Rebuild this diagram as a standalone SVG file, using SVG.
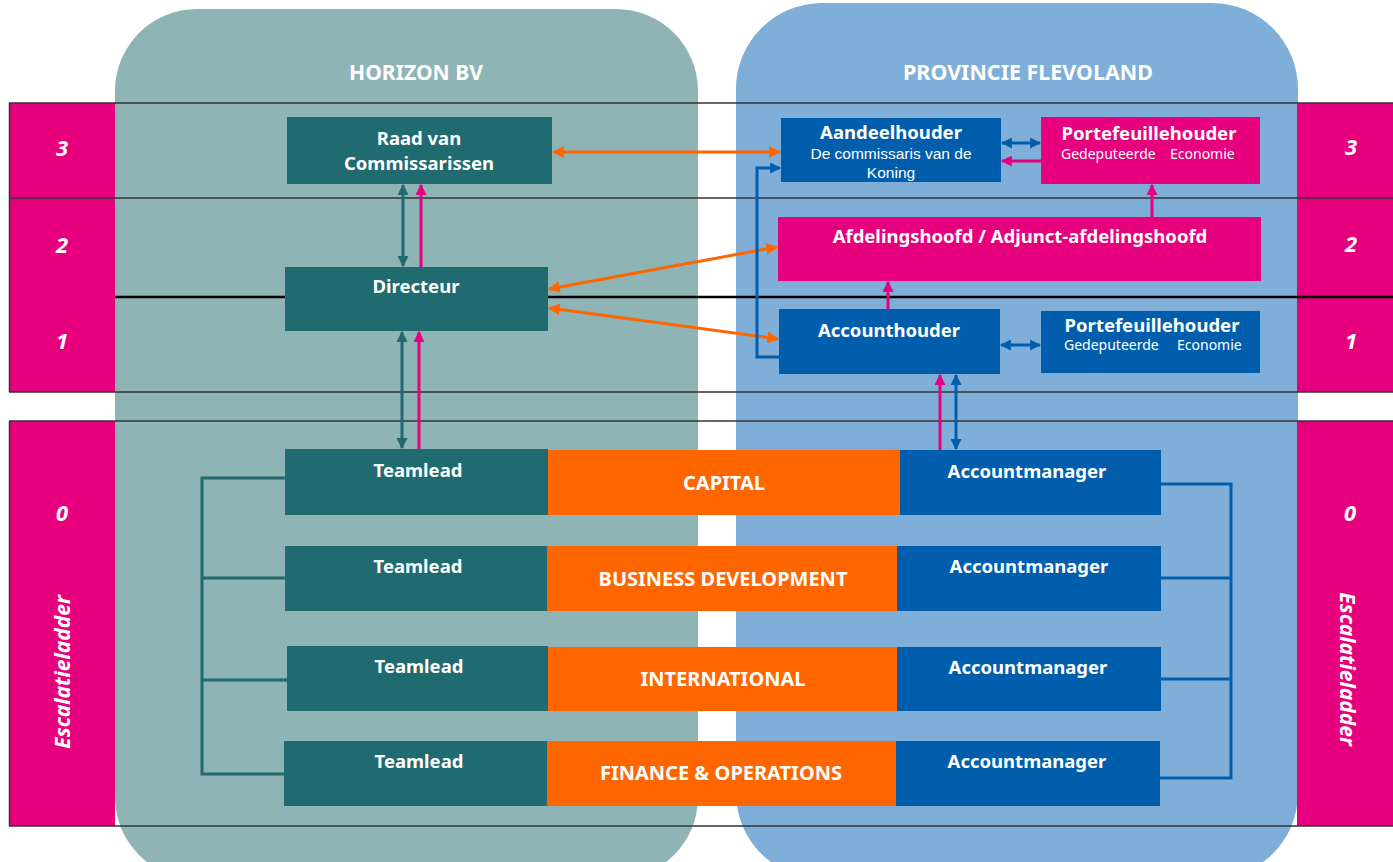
<svg xmlns="http://www.w3.org/2000/svg" width="1393" height="862" viewBox="0 0 1393 862">
<style>
.t{font-family:"Noto Sans","Open Sans","Liberation Sans",sans-serif;fill:#fff;font-weight:bold;text-anchor:middle}
.st{text-anchor:start}
.r{font-weight:normal}
.lib{font-family:"Liberation Sans",Arial,sans-serif;font-size:15.5px}
.hd{font-size:22px}
.b{font-size:18.5px}
.o{font-size:20px}
.s{font-size:14px}
.num{font-size:22px;font-style:italic}
.esc{font-size:21px;font-style:italic}
.fl{stroke:#333;stroke-width:1.5;fill:none}
.teal{fill:#206B6F}
.blue{fill:#005EAD}
.pink{fill:#E6007E}
.or{fill:#FF6600}
.co{fill:none;stroke-width:3}
.cOr{stroke:#FF6600}
.cTe{stroke:#206B6F}
.cBl{stroke:#005EAD}
.cPk{stroke:#E6007E}
</style>
<defs>
<marker id="mOr" viewBox="0 0 10 10" refX="9" refY="5" markerWidth="12" markerHeight="12" markerUnits="userSpaceOnUse" orient="auto-start-reverse"><path d="M0,0 L10,5 L0,10 z" fill="#FF6600"/></marker>
<marker id="mTe" viewBox="0 0 10 10" refX="9" refY="5" markerWidth="11" markerHeight="11" markerUnits="userSpaceOnUse" orient="auto-start-reverse"><path d="M0,0 L10,5 L0,10 z" fill="#206B6F"/></marker>
<marker id="mBl" viewBox="0 0 10 10" refX="9" refY="5" markerWidth="11" markerHeight="11" markerUnits="userSpaceOnUse" orient="auto-start-reverse"><path d="M0,0 L10,5 L0,10 z" fill="#005EAD"/></marker>
<marker id="mPk" viewBox="0 0 10 10" refX="9" refY="5" markerWidth="11" markerHeight="11" markerUnits="userSpaceOnUse" orient="auto-start-reverse"><path d="M0,0 L10,5 L0,10 z" fill="#E6007E"/></marker>
</defs>

<g id="panels">
<rect x="115" y="9" width="583" height="870" rx="82" fill="#8FB4B5"/>
<rect x="736" y="3" width="562" height="876" rx="86" fill="#7FAFD8"/>
<text class="t hd" x="416" y="80" textLength="134" lengthAdjust="spacingAndGlyphs">HORIZON BV</text>
<text class="t hd" x="1028" y="80" textLength="250" lengthAdjust="spacingAndGlyphs">PROVINCIE FLEVOLAND</text>
</g>

<g id="levels">
<rect x="9" y="103" width="106" height="289" class="pink"/>
<rect x="1297" y="103" width="96" height="289" class="pink"/>
<rect x="9" y="421" width="106" height="405" class="pink"/>
<rect x="1297" y="421" width="96" height="405" class="pink"/>
<line x1="9" y1="103" x2="1393" y2="103" class="fl"/>
<line x1="9" y1="198" x2="1393" y2="198" class="fl"/>
<line x1="115" y1="297" x2="1393" y2="297" stroke="#000" stroke-width="2.5"/>
<line x1="9" y1="392" x2="1393" y2="392" class="fl"/>
<line x1="9.5" y1="103" x2="9.5" y2="392" class="fl"/>
<line x1="9" y1="421" x2="1393" y2="421" class="fl"/>
<line x1="9" y1="826" x2="1393" y2="826" class="fl"/>
<line x1="9.5" y1="421" x2="9.5" y2="826" class="fl"/>
<text class="t num" x="62" y="156">3</text>
<text class="t num" x="62" y="253">2</text>
<text class="t num" x="62" y="349">1</text>
<text class="t num" x="62" y="521">0</text>
<text class="t esc" transform="translate(70,672) rotate(-90)">Escalatieladder</text>
<text class="t num" x="1351" y="155">3</text>
<text class="t num" x="1351" y="252">2</text>
<text class="t num" x="1351" y="349">1</text>
<text class="t num" x="1350" y="521">0</text>
<text class="t esc" transform="translate(1340,669) rotate(90)">Escalatieladder</text>
</g>

<g id="rvc"><rect x="287" y="117" width="265" height="67" class="teal"/>
<text class="t b" x="419" y="145">Raad van</text><text class="t b" x="419" y="170">Commissarissen</text></g>
<g id="directeur"><rect x="285" y="267" width="263" height="64" class="teal"/>
<text class="t b" x="416" y="293">Directeur</text></g>

<g id="aandeelhouder"><rect x="781" y="118" width="220" height="64" class="blue"/>
<text class="t b" x="891" y="139">Aandeelhouder</text>
<text class="t r lib" x="891" y="159">De commissaris van de</text>
<text class="t r lib" x="891" y="177.5">Koning</text></g>
<g id="portefeuille3"><rect x="1041" y="117" width="219" height="67" class="pink"/>
<text class="t b" x="1149" y="140">Portefeuillehouder</text>
<text class="t r s st" y="159"><tspan x="1061">Gedeputeerde</tspan><tspan x="1170">Economie</tspan></text></g>
<g id="afdelingshoofd"><rect x="778" y="217" width="483" height="64" class="pink"/>
<text class="t b" x="1020" y="243">Afdelingshoofd / Adjunct-afdelingshoofd</text></g>
<g id="accounthouder"><rect x="779" y="309" width="221" height="65" class="blue"/>
<text class="t b" x="889" y="337">Accounthouder</text></g>
<g id="portefeuille1"><rect x="1041" y="311" width="219" height="62" class="blue"/>
<text class="t b" x="1152" y="332">Portefeuillehouder</text>
<text class="t r s st" y="350"><tspan x="1064">Gedeputeerde</tspan><tspan x="1177">Economie</tspan></text></g>

<g id="row-capital">
<rect x="285" y="449" width="263" height="66" class="teal"/><text class="t b" x="418" y="477">Teamlead</text>
<rect x="548" y="450" width="352" height="65" class="or"/><text class="t o" x="724" y="490">CAPITAL</text>
<rect x="900" y="450" width="261" height="65" class="blue"/><text class="t b" x="1027" y="478">Accountmanager</text>
</g>
<g id="row-bd">
<rect x="285" y="546" width="262" height="65" class="teal"/><text class="t b" x="418" y="573">Teamlead</text>
<rect x="547" y="546" width="350" height="65" class="or"/><text class="t o" x="723" y="586">BUSINESS DEVELOPMENT</text>
<rect x="897" y="546" width="264" height="65" class="blue"/><text class="t b" x="1029" y="573">Accountmanager</text>
</g>
<g id="row-int">
<rect x="287" y="646" width="261" height="65" class="teal"/><text class="t b" x="419" y="673">Teamlead</text>
<rect x="548" y="647" width="349" height="64" class="or"/><text class="t o" x="723" y="686">INTERNATIONAL</text>
<rect x="897" y="647" width="264" height="64" class="blue"/><text class="t b" x="1028" y="674">Accountmanager</text>
</g>
<g id="row-fo">
<rect x="284" y="741" width="263" height="65" class="teal"/><text class="t b" x="419" y="768">Teamlead</text>
<rect x="547" y="741" width="349" height="65" class="or"/><text class="t o" x="721" y="780">FINANCE &amp; OPERATIONS</text>
<rect x="896" y="741" width="264" height="65" class="blue"/><text class="t b" x="1027" y="768">Accountmanager</text>
</g>

<g id="connectors">
<line x1="553" y1="152" x2="780" y2="152" class="co cOr" marker-start="url(#mOr)" marker-end="url(#mOr)"/>
<line x1="549" y1="289" x2="777" y2="247" class="co cOr" marker-start="url(#mOr)" marker-end="url(#mOr)"/>
<line x1="549" y1="308" x2="778" y2="339" class="co cOr" marker-start="url(#mOr)" marker-end="url(#mOr)"/>
<path d="M779,357 H757 V168 H780" class="co cBl" marker-end="url(#mBl)"/>
<line x1="1002" y1="143" x2="1040" y2="143" class="co cBl" marker-start="url(#mBl)" marker-end="url(#mBl)"/>
<line x1="1041" y1="161" x2="1002" y2="161" class="co cPk" marker-end="url(#mPk)"/>
<line x1="1152" y1="217" x2="1152" y2="185" class="co cPk" marker-end="url(#mPk)"/>
<line x1="888" y1="309" x2="888" y2="282" class="co cPk" marker-end="url(#mPk)"/>
<line x1="1001" y1="345" x2="1040" y2="345" class="co cBl" marker-start="url(#mBl)" marker-end="url(#mBl)"/>
<line x1="403" y1="185" x2="403" y2="266" class="co cTe" marker-start="url(#mTe)" marker-end="url(#mTe)"/>
<line x1="421" y1="267" x2="421" y2="185" class="co cPk" marker-end="url(#mPk)"/>
<line x1="402" y1="332" x2="402" y2="448" class="co cTe" marker-start="url(#mTe)" marker-end="url(#mTe)"/>
<line x1="419" y1="449" x2="419" y2="332" class="co cPk" marker-end="url(#mPk)"/>
<line x1="940" y1="450" x2="940" y2="375" class="co cPk" marker-end="url(#mPk)"/>
<line x1="956" y1="375" x2="956" y2="449" class="co cBl" marker-start="url(#mBl)" marker-end="url(#mBl)"/>
<path d="M285,478 H202 V774 H284 M202,578 H285 M202,680 H287" class="co cTe"/>
<path d="M1161,484 H1231 V778 H1160 M1161,578 H1231 M1161,679 H1231" class="co cBl"/>
</g>
</svg>
